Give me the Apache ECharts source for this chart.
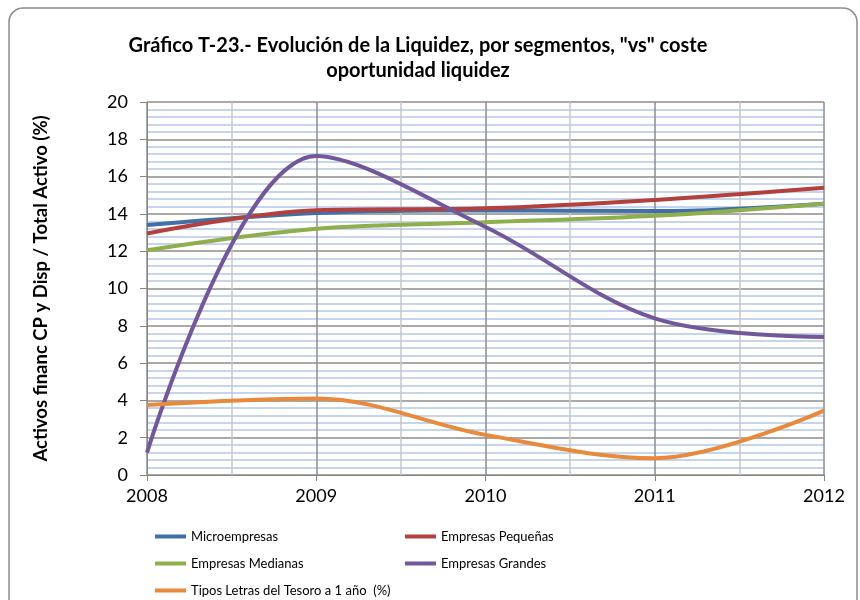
<!DOCTYPE html>
<html>
<head>
<meta charset="utf-8">
<script src="https://cdn.jsdelivr.net/npm/echarts@6/dist/echarts.min.js"></script>
<style>
  html, body { margin: 0; padding: 0; background: #fff; }
  #chart { width: 860px; height: 600px; }
</style>
</head>
<body>
<div id="chart"></div>
<script>
// years on the x axis
var years = [2008, 2009, 2010, 2011, 2012];

// % activos financieros CP y disponible / total activo
var micro = [13.4, 14.05, 14.2, 14.15, 14.55];
var pequenas = [12.95, 14.2, 14.3, 14.75, 15.4];
var medianas = [12.05, 13.2, 13.55, 13.9, 14.55];
var grandes = [1.2, 17.1, 13.3, 8.4, 7.4];
var letras = [3.75, 4.1, 2.15, 0.9, 3.45];

var FONT = "Lato, 'Open Sans', sans-serif";

function pairs(vals) {
  return years.map(function (y, i) { return [y, vals[i]]; });
}

function lineSeries(name, vals, color, smooth) {
  return {
    name: name,
    type: "line",
    data: pairs(vals),
    smooth: smooth,
    symbol: "none",
    lineStyle: { color: color, width: 4 },
    itemStyle: { color: color },
  };
}

var legendCommon = {
  orient: "vertical",
  top: 530,
  height: 100,
  padding: 0,
  itemWidth: 31,
  itemHeight: 4,
  itemGap: 14,
  icon: "rect",
  textStyle: { fontSize: 13, color: "#000", fontFamily: FONT },
};

var chart = echarts.init(document.getElementById("chart"));

var option = {
  animation: false,
  textStyle: { fontFamily: FONT },
  title: {
    text: 'Gráfico T-23.- Evolución de la Liquidez, por segmentos, "vs" coste\noportunidad liquidez',
    left: 413,
    top: 28,
    textAlign: "center",
    textStyle: {
      fontFamily: FONT,
      fontSize: 20,
      fontWeight: "bold",
      color: "#000",
      lineHeight: 25,
    },
  },
  graphic: [
    {
      type: "rect",
      shape: { x: 9, y: 8, width: 848, height: 610, r: 14 },
      style: { fill: "none", stroke: "#8c8c8c", lineWidth: 1.5 },
      silent: true,
    },
  ],
  grid: { left: 147, right: 36, top: 102, bottom: 125 },
  xAxis: {
    type: "value",
    min: 2008,
    max: 2012,
    interval: 1,
    axisLine: { show: true, lineStyle: { color: "#868686", width: 1 } },
    axisTick: { show: true, length: 6, lineStyle: { color: "#868686" } },
    axisLabel: {
      color: "#000",
      fontSize: 18,
      margin: 12,
      fontFamily: FONT,
      formatter: function (v) { return String(v); },
    },
    splitLine: { show: true, lineStyle: { color: "#8c8c8c", width: 1.5 } },
    minorTick: { show: false, splitNumber: 2 },
    minorSplitLine: { show: true, lineStyle: { color: "#c8c8c8", width: 1.5 } },
  },
  yAxis: {
    type: "value",
    min: 0,
    max: 20,
    interval: 2,
    name: "Activos financ CP y Disp / Total Activo (%)",
    nameLocation: "middle",
    nameGap: 96,
    nameRotate: 90,
    nameTextStyle: {
      color: "#000",
      fontSize: 18.5,
      fontWeight: "bold",
      fontFamily: FONT,
    },
    axisLine: { show: true, lineStyle: { color: "#868686", width: 1 } },
    axisTick: { show: true, length: 7, lineStyle: { color: "#868686" } },
    axisLabel: {
      color: "#000",
      fontSize: 18,
      margin: 19,
      fontFamily: FONT,
    },
    splitLine: { show: true, lineStyle: { color: "#8c8c8c", width: 1.5 } },
    minorTick: { show: false, splitNumber: 5 },
    minorSplitLine: { show: true, lineStyle: { color: "#b3c8e8", width: 1.5 } },
  },
  legend: [
    Object.assign({}, legendCommon, {
      data: ["Microempresas", "Empresas Medianas", "Tipos Letras del Tesoro a 1 año  (%)"],
      left: 155,
    }),
    Object.assign({}, legendCommon, {
      data: ["Empresas Pequeñas", "Empresas Grandes"],
      left: 405,
    }),
  ],
  series: [
    lineSeries("Microempresas", micro, "#4170a8", 0.35),
    lineSeries("Empresas Pequeñas", pequenas, "#b2413e", 0.35),
    lineSeries("Empresas Medianas", medianas, "#8fae4c", 0.35),
    lineSeries("Empresas Grandes", grandes, "#72589a", 0.35),
    lineSeries("Tipos Letras del Tesoro a 1 año  (%)", letras, "#e8893c", 0.35),
  ],
};

chart.setOption(option);
</script>
</body>
</html>
